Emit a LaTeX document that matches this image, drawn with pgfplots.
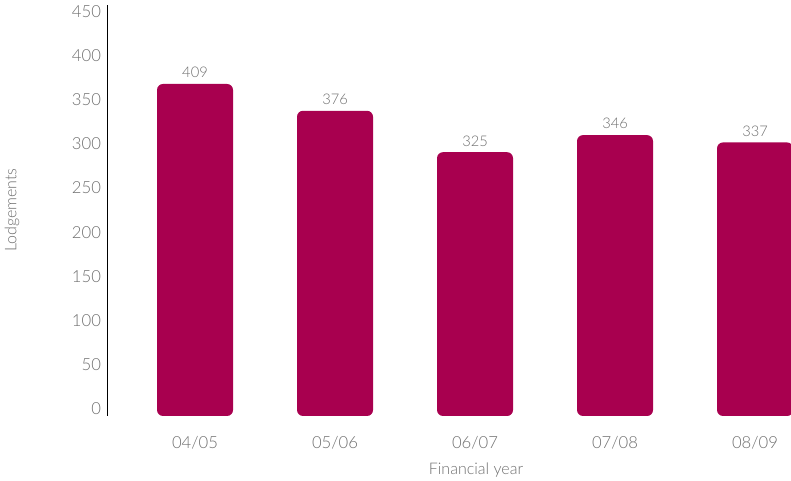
\documentclass[border=0pt]{standalone}
\usepackage{pgfplots}
\pgfplotsset{compat=1.18}
\usepackage{fontspec}
\setmainfont{Lato}[UprightFont=* Light]
\definecolor{barc}{HTML}{A8004F}
\definecolor{txt}{HTML}{6E6E6E}
\begin{document}
\begin{tikzpicture}
\useasboundingbox (0,0) rectangle (593.25pt,360.75pt);
\begin{axis}[
  at={(80.25pt,48.75pt)}, anchor=south west,
  scale only axis, width=513pt, height=308.25pt,
  xmin=-0.6286, xmax=4.257, ymin=0, ymax=506.3,
  axis y line=left, axis x line=bottom,
  x axis line style={draw=none}, y axis line style={-, black, line width=0.75pt},
  major tick length=0pt,
  xtick={0,1,2,3,4},
  xticklabels={04/05,05/06,06/07,07/08,08/09},
  ytick={8.6,63.06,117.52,171.98,226.44,280.9,335.36,389.82,444.28,498.74},
  yticklabels={0,50,100,150,200,250,300,350,400,450},
  /pgf/number format/assume math mode=true,
  tick label style={font=\fontsize{12.5}{14}\selectfont, text=txt},
  xticklabel style={yshift=-12pt},
  yticklabel style={xshift=-1pt},
  xlabel={Financial year}, ylabel={Lodgements},
  label style={font=\fontsize{12}{14}\selectfont, text=txt},
  xlabel style={at={(axis description cs:0.5395,-0.1314)}, anchor=center},
  ylabel style={at={(axis description cs:-0.1389,0.501)}, anchor=center},
  clip=false,
]
\addplot[ybar, bar width=57pt, fill=barc, draw=none, rounded corners=4.5pt,
  nodes near coords, point meta=explicit symbolic,
  nodes near coords style={font=\fontsize{11}{13}\selectfont, text=txt, yshift=1pt}]
  table[meta=y] {
x y
0 409
1 376
2 325
3 346
4 337
};
\end{axis}
\end{tikzpicture}
\end{document}
